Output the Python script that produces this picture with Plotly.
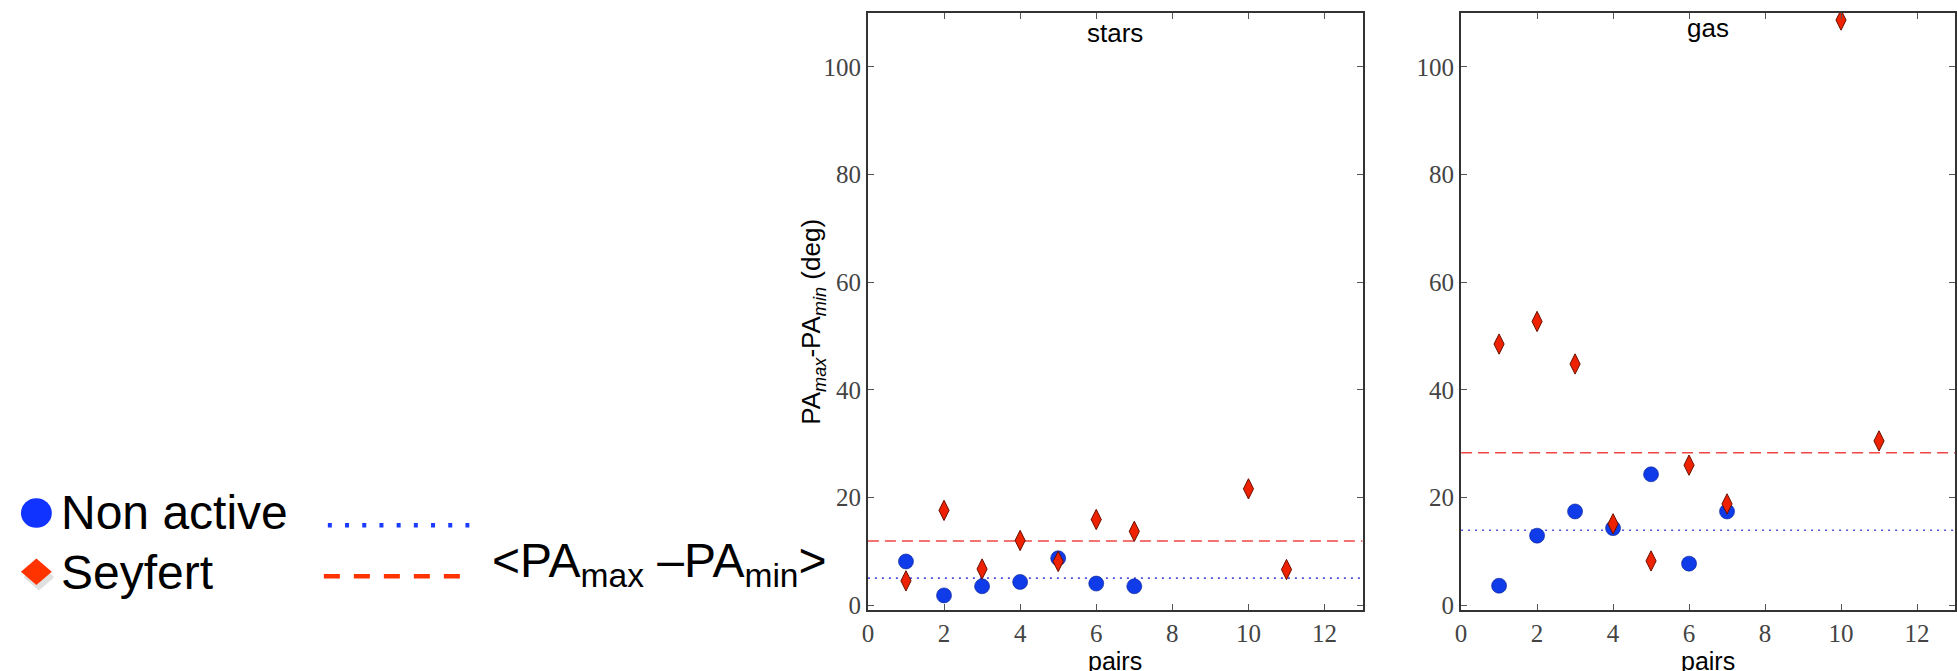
import plotly.graph_objects as go

# ---------------- data ----------------
nonactive_pairs = [1, 2, 3, 4, 5, 6, 7]
seyfert_pairs = [1, 2, 3, 4, 5, 6, 7, 10, 11]

stars_nonactive = [8.1, 1.8, 3.5, 4.3, 8.7, 4.0, 3.5]
stars_seyfert = [4.5, 17.6, 6.7, 12.0, 8.1, 15.9, 13.7, 21.6, 6.6]
gas_nonactive = [3.6, 12.9, 17.4, 14.3, 24.3, 7.7, 17.4]
gas_seyfert = [48.5, 52.7, 44.8, 15.1, 8.2, 26.0, 18.8, 108.7, 30.5]

stars_mean_nonactive = 5.0
stars_mean_seyfert = 11.9
gas_mean_nonactive = 13.9
gas_mean_seyfert = 28.3

panel_titles = ["stars", "gas"]
x_ticks = [0, 2, 4, 6, 8, 10, 12]
y_ticks = [0, 20, 40, 60, 80, 100]
x_range = [0, 13]
y_range = [-0.86, 110.1]

# ---------------- layout helpers ----------------
W, H = 1957, 671


def PX(px):
    return px / W


def PY(py):
    return 1 - py / H


BLUE = "#0f3be8"
RED = "#ee2200"

fig = go.Figure()

panels = [
    ("x", "y", stars_nonactive, stars_seyfert, stars_mean_nonactive, stars_mean_seyfert),
    ("x2", "y2", gas_nonactive, gas_seyfert, gas_mean_nonactive, gas_mean_seyfert),
]

for xa, ya, na, sy, m_na, m_sy in panels:
    fig.add_trace(go.Scatter(x=x_range, y=[m_na, m_na], mode="lines", xaxis=xa, yaxis=ya,
                             line=dict(color="#5050e0", width=1.6, dash="2px,5px"),
                             showlegend=False, hoverinfo="skip"))
    fig.add_trace(go.Scatter(x=x_range, y=[m_sy, m_sy], mode="lines", xaxis=xa, yaxis=ya,
                             line=dict(color="#f04545", width=1.6, dash="11px,6px"),
                             showlegend=False, hoverinfo="skip"))
    fig.add_trace(go.Scatter(x=nonactive_pairs, y=na, mode="markers", xaxis=xa, yaxis=ya,
                             marker=dict(symbol="circle", size=15, color=BLUE,
                                         line=dict(color="#0a2090", width=0.6)),
                             name="Non active", showlegend=False))
    fig.add_trace(go.Scatter(x=seyfert_pairs, y=sy, mode="markers", xaxis=xa, yaxis=ya,
                             marker=dict(symbol="diamond-tall", size=14.5, color=RED,
                                         line=dict(color="#6a0e00", width=1)),
                             name="Seyfert", showlegend=False))

axis_style = dict(
    showline=True, linecolor="#333333", linewidth=2, mirror="allticks",
    ticks="inside", ticklen=6, tickwidth=1, tickcolor="#555555",
    showgrid=False, zeroline=False,
    tickfont=dict(family="Liberation Serif", size=25, color="#444444"),
)

fig.update_layout(
    width=W, height=H,
    margin=dict(l=0, r=0, t=0, b=0),
    paper_bgcolor="white", plot_bgcolor="white",
    showlegend=False,
    xaxis=dict(domain=[PX(865), PX(1361.5)], range=x_range, tickvals=x_ticks, anchor="y", **axis_style),
    yaxis=dict(domain=[PY(618), PY(12.7)], range=y_range, tickvals=y_ticks, anchor="x", **axis_style),
    xaxis2=dict(domain=[PX(1460.3), PX(1956)], range=x_range, tickvals=x_ticks, anchor="y2", **axis_style),
    yaxis2=dict(domain=[PY(618), PY(12.7)], range=y_range, tickvals=y_ticks, anchor="x2", **axis_style),
)

sans = "Liberation Sans, Arial, Helvetica, sans-serif"
ann = []
# panel titles
ann.append(dict(text=panel_titles[0], x=PX(1113), y=PY(33.5), xref="paper", yref="paper",
                xanchor="center", yanchor="middle", showarrow=False,
                font=dict(family=sans, size=26, color="black")))
ann.append(dict(text=panel_titles[1], x=PX(1708), y=PY(28.5), xref="paper", yref="paper",
                xanchor="center", yanchor="middle", showarrow=False,
                font=dict(family=sans, size=26, color="black")))
# x axis titles
for cx in (1113, 1708):
    ann.append(dict(text="pairs", x=PX(cx), y=PY(670), xref="paper", yref="paper",
                    xanchor="center", yanchor="middle", showarrow=False,
                    font=dict(family=sans, size=25, color="black")))
# y axis title
ann.append(dict(text="PA<sub><i>max</i></sub>-PA<sub><i>min</i></sub> (deg)", textangle=-90,
                x=PX(810), y=PY(326), xref="paper", yref="paper",
                xanchor="center", yanchor="middle", showarrow=False,
                font=dict(family=sans, size=26, color="black")))
# side legend texts
ann.append(dict(text="Non active", x=PX(53), y=PY(519), xref="paper", yref="paper",
                xanchor="left", yanchor="middle", showarrow=False,
                font=dict(family=sans, size=48, color="black")))
ann.append(dict(text="Seyfert", x=PX(53), y=PY(580), xref="paper", yref="paper",
                xanchor="left", yanchor="middle", showarrow=False,
                font=dict(family=sans, size=48, color="black")))
ann.append(dict(text="&lt;PA<sub>max</sub> –PA<sub>min</sub>&gt;", x=PX(486), y=PY(572),
                xref="paper", yref="paper", xanchor="left", yanchor="middle", showarrow=False,
                font=dict(family=sans, size=48, color="black")))
fig.update_layout(annotations=ann)

# side legend symbols
shapes = []
shapes.append(dict(type="circle", xref="paper", yref="paper",
                   x0=PX(15), x1=PX(46), y0=PY(535), y1=PY(505),
                   fillcolor="#1033ff", line=dict(width=0)))


def diamond(cx, cy, hw, hh):
    return (f"M{PX(cx)},{PY(cy - hh)} L{PX(cx + hw)},{PY(cy)} "
            f"L{PX(cx)},{PY(cy + hh)} L{PX(cx - hw)},{PY(cy)} Z")


shapes.append(dict(type="path", xref="paper", yref="paper", path=diamond(33, 585, 15.5, 13.5),
                   fillcolor="rgba(0,0,0,0.12)", line=dict(width=0)))
shapes.append(dict(type="path", xref="paper", yref="paper", path=diamond(30.5, 579.5, 15.5, 13.5),
                   fillcolor="#ff3300", line=dict(width=0)))
shapes.append(dict(type="line", xref="paper", yref="paper",
                   x0=PX(323), x1=PX(465), y0=PY(532.5), y1=PY(532.5),
                   line=dict(color="#1a3cff", width=4.5, dash="4px,13.2px")))
shapes.append(dict(type="line", xref="paper", yref="paper",
                   x0=PX(319), x1=PX(456), y0=PY(584), y1=PY(584),
                   line=dict(color="#ff3300", width=4.5, dash="16px,14px")))
fig.update_layout(shapes=shapes)

fig.write_html("out.html")
